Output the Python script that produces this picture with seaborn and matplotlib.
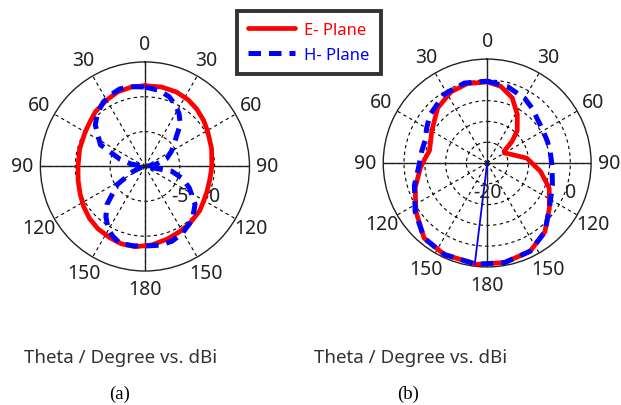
import numpy as np
import matplotlib
matplotlib.use("Agg")
import matplotlib.pyplot as plt
import seaborn as sns

# (a) pattern, theta in degrees, gain in dBi
theta_a_e = [0, 12, 23, 33, 42, 52, 61, 75, 90, 101, 112, 121, 129, 142, 152, 163, 175, 187, 197,
             206, 217, 227, 237, 247, 258, 270, 285, 300, 310, 318, 330, 340, 350, 360]
gain_a_e = [1.6, 1.65, 1.6, 1.4, 1.1, 0.7, 0.3, -0.1, -0.4, -0.5, -0.4, -0.2, 0.1, 0.4, 0.6, 0.9,
            1.3, 1.6, 1.6, 1.4, 1.2, 0.9, 0.5, 0.1, -0.2, -0.4, -0.3, -0.1, 0.2, 0.6, 1.0, 1.4,
            1.55, 1.6]

theta_a_h = [0, 11, 19, 26, 33, 40, 50, 60, 70, 80, 90, 100, 108, 116, 127, 135, 142, 151, 160, 169,
             178, 188, 198, 205, 211, 218, 225, 237, 247, 258, 270, 280, 286, 296, 310, 318, 327,
             335, 342, 351, 360]
gain_a_h = [1.4, 1.1, 0.6, -0.1, -1.0, -2.1, -4.4, -5.6, -6.7, -8.5, -10.0, -6.1, -4.3, -2.9, -1.0,
            -0.2, 0.4, 1.0, 1.4, 1.5, 1.4, 1.5, 1.6, 1.0, 0.3, -0.9, -2.3, -5.3, -8.1, -9.5, -10.0,
            -8.0, -6.3, -2.9, -0.7, 0.2, 1.0, 1.4, 1.7, 1.6, 1.4]

# (b) pattern
theta_b_e = [0, 10, 21, 32, 43, 49, 55, 60, 68, 83, 99, 112, 126, 140, 154, 170, 186, 205, 220, 236,
             251, 266, 274, 282, 290, 300, 318, 333, 346, 360]
gain_b_e = [-0.5, -1.25, -3.2, -6.3, -9.4, -12.1, -15.0, -15.2, -14.2, -10.4, -7.0, -3.9, -1.5, 1.6,
            3.6, 4.3, 4.5, 4.3, 3.6, 0.7, -1.7, -3.9, -5.0, -5.8, -5.5, -4.6, -2.2, -0.8, -0.3, -0.5]

theta_b_h = [0, 15, 30, 40, 48, 58, 70, 80, 92, 109, 126, 140, 154, 170, 186, 205, 220, 236, 253,
             268, 280, 290, 300, 310, 328, 344, 360]
gain_b_h = [-0.3, -1.0, -2.0, -3.0, -3.9, -4.4, -4.6, -4.6, -4.4, -3.4, -1.5, 1.6, 3.6, 4.3, 4.5,
            4.3, 3.6, 0.9, -1.7, -3.6, -4.0, -4.1, -3.2, -2.0, -0.5, 0.0, -0.3]

# main lobe marker in (b)
theta_b_lobe = [187, 187]
gain_b_lobe = [-20, 4.5]

theta_ticks = [0, 30, 60, 90, 120, 150, 180, 210, 240, 270, 300, 330]
theta_labels = ['0', '30', '60', '90', '120', '150', '180', '150', '120', '90', '60', '30']

sns.set_style("white")
plt.rcParams['font.family'] = ['Noto Sans', 'DejaVu Sans']

fig = plt.figure(figsize=(6.21, 4.06), dpi=100)


def polar_panel(rect, rmin, rmax, rings, rlabels, e_t, e_g, h_t, h_g):
    ax = fig.add_axes(rect, projection='polar')
    ax.set_theta_zero_location('N')
    ax.set_theta_direction(-1)
    ax.set_rlim(rmin, rmax)
    ax.set_yticks(rings)
    ax.set_yticklabels([])
    ax.set_thetagrids(theta_ticks, theta_labels)
    ax.tick_params(axis='x', pad=2.5, labelsize=14, colors='#222222')
    ax.grid(True, color='black', linestyle=(0, (3, 3)), linewidth=0.8)
    ax.spines['polar'].set_linewidth(1.0)
    ax.spines['polar'].set_color('#222222')
    ax.set_facecolor('white')
    for t in [0, 90, 180, 270]:
        ax.axvline(np.deg2rad(t), color='#222222', linewidth=1.0, zorder=2)

    sns.lineplot(x=np.deg2rad(e_t), y=e_g, ax=ax, sort=False, estimator=None,
                 color='#ff0000', linewidth=3.4, label='E- Plane', zorder=3)
    sns.lineplot(x=np.deg2rad(h_t), y=np.clip(h_g, rmin, None), ax=ax, sort=False, estimator=None,
                 color='#0000ff', linewidth=3.6, linestyle=(0, (2.5, 1.6)), label='H- Plane', zorder=4)
    ax.set_xlabel('')
    ax.set_ylabel('')
    ax.get_legend().remove()

    for v in rlabels:
        frac = (v - rmin) / (rmax - rmin)
        ax.text(0.5 + 0.5 * frac, 0.36, str(v), transform=ax.transAxes,
                ha='center', va='center', fontsize=14, color='#222222', zorder=5)
    return ax


ax1 = polar_panel([0.0644, 0.330, 0.338, 0.515], -10, 5, [-5, 0], [-5, 0],
                  theta_a_e, gain_a_e, theta_a_h, gain_a_h)
ax2 = polar_panel([0.617, 0.340, 0.335, 0.512], -20, 5, [-15, -10, -5, 0], [-20, 0],
                  theta_b_e, gain_b_e, theta_b_h, gain_b_h)
sns.lineplot(x=np.deg2rad(theta_b_lobe), y=gain_b_lobe, ax=ax2, sort=False, estimator=None,
             color='#0000ff', linewidth=1.3, zorder=4, legend=False)

handles, labels = ax1.get_legend_handles_labels()
leg = fig.legend(handles, labels, loc='upper left', bbox_to_anchor=(237 / 621, 1 - 12 / 406),
                 borderaxespad=0, fancybox=False, frameon=True, fontsize=12,
                 labelcolor='linecolor', handlelength=2.8, handletextpad=0.6,
                 borderpad=0.65, labelspacing=0.55)
leg.get_frame().set_edgecolor('black')
leg.get_frame().set_linewidth(2.8)

for x in [121, 411]:
    fig.text(x / 621, 1 - 358 / 406, 'Theta / Degree vs. dBi', ha='center', va='center',
             fontsize=13.5, color='#333333')
fig.text(120 / 621, 1 - 394 / 406, '(a)', ha='center', va='center', fontsize=13.5,
         family='Liberation Serif', color='black')
fig.text(408 / 621, 1 - 394 / 406, '(b)', ha='center', va='center', fontsize=13.5,
         family='Liberation Serif', color='black')

plt.savefig('out.png', dpi=100, facecolor='white')
